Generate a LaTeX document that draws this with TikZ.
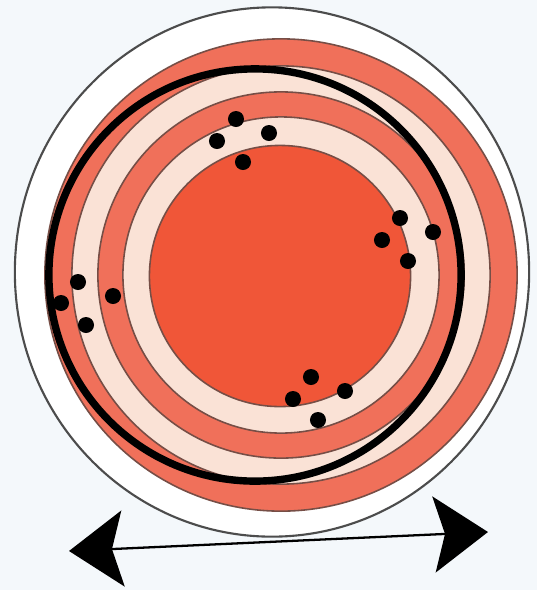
\documentclass[tikz,border=0pt]{standalone}
\definecolor{bandSalmon}{RGB}{240,112,90}
\definecolor{bandPink}{RGB}{250,226,214}
\definecolor{coreRed}{RGB}{240,86,56}
\definecolor{edgeBrown}{RGB}{118,78,70}
\definecolor{paperBg}{RGB}{244,248,251}
\usepackage{tikz}
\usetikzlibrary{shapes.geometric, arrows.meta, positioning}

\begin{document}
\begin{tikzpicture}[x=0.01cm, y=-0.01cm]
    \tikzset{
        band/.style={circle, draw=edgeBrown, line width=0.45pt, inner sep=0pt},
        dot/.style={circle, fill=black, inner sep=0pt, minimum size=0.16cm},
        track/.style={circle, draw=black, line width=2.1pt, inner sep=0pt, minimum size=4.12cm},
        swing/.style={draw=black, line width=0.65pt, {Stealth[length=0.54cm, width=0.76cm, inset=0.11cm]}-{Stealth[length=0.54cm, width=0.76cm, inset=0.11cm]}}
    }
    \fill[paperBg] (0,0) rectangle (537,590);
    \useasboundingbox (0,0) rectangle (537,590);

    % rim and bands
    \node [ellipse, draw=black!70, fill=white, line width=0.6pt, inner sep=0pt, minimum width=5.14cm, minimum height=5.29cm] (rim) at (272,272) {};
    \node [band, fill=bandSalmon, minimum size=4.72cm] (band1) at (281,275) {};
    \node [band, fill=bandPink, minimum size=4.18cm] (band2) at (281,275) {};
    \node [band, fill=bandSalmon, minimum size=3.66cm] (band3) at (281,275) {};
    \node [band, fill=bandPink, minimum size=3.16cm] (band4) at (281,275) {};
    \node [band, fill=coreRed, minimum size=2.61cm] (core) at (280,276) {};
    \node [track] (orbit) at (255,275) {};

    % dots
    \node [dot] (t1) at (236,119) {};
    \node [dot] (t2) at (217,141) {};
    \node [dot] (t3) at (269,133) {};
    \node [dot] (t4) at (243,162) {};
    \node [dot] (r1) at (400,218) {};
    \node [dot] (r2) at (382,240) {};
    \node [dot] (r3) at (433,232) {};
    \node [dot] (r4) at (408,261) {};
    \node [dot] (b1) at (311,377) {};
    \node [dot] (b2) at (293,399) {};
    \node [dot] (b3) at (345,391) {};
    \node [dot] (b4) at (318,420) {};
    \node [dot] (l1) at (78,282) {};
    \node [dot] (l2) at (61,303) {};
    \node [dot] (l3) at (113,296) {};
    \node [dot] (l4) at (86,325) {};

    % sway arrow
    \coordinate (leftend) at (69,551);
    \coordinate (rightend) at (488,532);
    \draw [swing] (leftend) -- (rightend);
\end{tikzpicture}
\end{document}
